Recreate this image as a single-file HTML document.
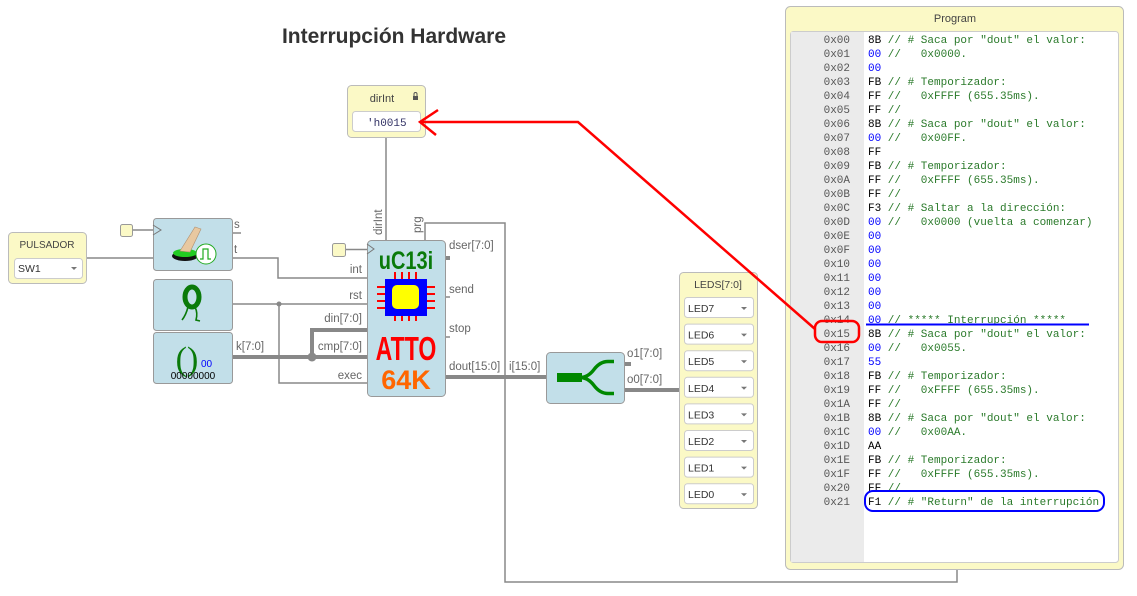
<!DOCTYPE html>
<html><head><meta charset="utf-8"><style>
html,body{margin:0;padding:0;background:#fff;width:1137px;height:596px;overflow:hidden}
svg{display:block}
text{font-family:"Liberation Sans",sans-serif}
.m, .m text, text.m{font-family:"Liberation Mono",monospace;font-size:11px;white-space:pre}
.lbl, .lbl text{font-size:11.5px;fill:#666}
.big{font-family:"Liberation Sans",Arial,sans-serif;font-weight:bold}
</style></head><body>
<svg width="1137" height="596" viewBox="0 0 1137 596" xmlns="http://www.w3.org/2000/svg">
<text x="394" y="43" text-anchor="middle" font-size="21" font-weight="bold" fill="#333">Interrupción Hardware</text>

<g stroke="#888" stroke-width="1.5" fill="none">
<path d="M386 138 V240"/>
<path d="M86 258 H153"/>
<path d="M132 230 H153"/>
<path d="M232 258 H278 V278 H367"/>
<path d="M232 304 H367"/>
<path d="M279 304 V383 H367"/>
<path d="M345 249.5 H367"/>
<path d="M425 240 V223 H505 V582 H957 V569"/>
<path d="M232 233 H241"/>
<path d="M445 297 H450"/><path d="M445 337 H450"/>
</g>
<g stroke="#888" stroke-width="4" fill="none">
<path d="M232 357 H367"/>
<path d="M312 357 V330 H367"/>
<path d="M445 377 H546"/>
<path d="M624 390 H679"/>
<path d="M445 258 H450"/>
<path d="M624 364 H631"/>
</g>
<circle cx="279" cy="304" r="2.5" fill="#888"/>
<circle cx="312" cy="357" r="4.5" fill="#888"/>

<rect x="8.5" y="232.5" width="78" height="51" rx="4" fill="#fbf9c6" stroke="#bbb"/>
<text x="47" y="248" text-anchor="middle" font-size="10" fill="#444">PULSADOR</text>
<rect x="14.5" y="258.5" width="68" height="20" rx="3" fill="#fff" stroke="#ccc"/>
<text x="18" y="272" font-size="10.5" fill="#333">SW1</text>
<path d="M71 267 h6 l-3 3z" fill="#777"/>

<rect x="120.5" y="224.5" width="12" height="12" rx="2" fill="#fbf9c6" stroke="#999"/>
<rect x="332.5" y="243.5" width="13" height="13" rx="2" fill="#fbf9c6" stroke="#999"/>

<g fill="#c2dfe9" stroke="#999">
<rect x="153.5" y="218.5" width="79" height="52" rx="3"/>
<rect x="153.5" y="279.5" width="79" height="51" rx="3"/>
<rect x="153.5" y="332.5" width="79" height="51" rx="3"/>
</g>
<path d="M153 225 l8 5 l-8 5" stroke="#777" fill="none"/>
<ellipse cx="185" cy="256" rx="13" ry="5" fill="#111"/>
<ellipse cx="185" cy="253" rx="12" ry="4" fill="#2c2"/>
<path d="M180 251 L195 227 L201 229 L190 252 Z" fill="#e8c8a0" stroke="#b09070" stroke-width=".6"/>
<circle cx="206" cy="254" r="10" fill="#fff" stroke="#2a2" stroke-width="1"/>
<path d="M200 259 h3 v-10 h5 v10 h3" stroke="#2a2" fill="none" stroke-width="1.2"/>
<text x="234" y="228" class="lbl">s</text>
<text x="234" y="253" class="lbl">t</text>
<ellipse cx="192" cy="297" rx="7" ry="10" fill="none" stroke="#0a7a0a" stroke-width="5"/>
<path d="M188 307 q-2 8 -6 13 M195 307 q3 6 1 13 l4 1" stroke="#0a7a0a" stroke-width="1.6" fill="none"/>
<text x="187" y="370" text-anchor="middle" font-size="34" fill="#0a7a0a" style="font-family:'Liberation Serif',serif">()</text>
<text x="201" y="367" font-size="10" fill="#00f">00</text>
<text x="193" y="379" text-anchor="middle" font-size="10" fill="#000">00000000</text>
<text x="236" y="350" class="lbl">k[7:0]</text>

<rect x="367.5" y="240.5" width="78" height="156" rx="4" fill="#c2dfe9" stroke="#999"/>
<path d="M367 244 l7 5 l-7 5" stroke="#777" fill="none"/>
<text class="big" transform="translate(406,269) scale(0.8,1)" text-anchor="middle" font-size="25" fill="#0a7a0a">uC13i</text>
<g stroke="#f00" stroke-width="2">
<path d="M395 272 v7 M402 272 v7 M409 272 v7 M416 272 v7"/>
<path d="M395 314 v7 M402 314 v7 M409 314 v7 M416 314 v7"/>
<path d="M377 287 h8 M377 294 h8 M377 301 h8 M377 308 h8"/>
<path d="M427 287 h8 M427 294 h8 M427 301 h8 M427 308 h8"/>
</g>
<rect x="385" y="279" width="42" height="37" fill="#00f"/>
<rect x="392" y="285" width="27" height="24" rx="5" fill="#ff0"/>
<text class="big" transform="translate(406,360) scale(0.7,1)" text-anchor="middle" font-size="33" fill="#f00">ATTO</text>
<text class="big" transform="translate(406,389)" text-anchor="middle" font-size="27" fill="#f60">64K</text>
<g class="lbl" text-anchor="end">
<text x="362" y="273">int</text>
<text x="362" y="299">rst</text>
<text x="362" y="322">din[7:0]</text>
<text x="362" y="350">cmp[7:0]</text>
<text x="362" y="379">exec</text>
</g>
<g class="lbl">
<text x="449" y="249">dser[7:0]</text>
<text x="449" y="293">send</text>
<text x="449" y="332">stop</text>
<text x="449" y="370">dout[15:0]</text>
<text x="509" y="370">i[15:0]</text>
<text x="627" y="357">o1[7:0]</text>
<text x="627" y="383">o0[7:0]</text>
</g>
<text transform="translate(382,235) rotate(-90)" class="lbl">dirInt</text>
<text transform="translate(421,233) rotate(-90)" class="lbl">prg</text>

<rect x="347.5" y="85.5" width="78" height="52" rx="4" fill="#fbf9c6" stroke="#bbb"/>
<text x="382" y="102" text-anchor="middle" font-size="11" fill="#444">dirInt</text>
<rect x="413" y="96" width="5" height="4" fill="#555"/><path d="M414 96 v-2 a1.5 1.5 0 0 1 3 0 v2" stroke="#555" fill="none" stroke-width="1"/>
<rect x="352.5" y="111.5" width="68" height="20" rx="3" fill="#fff" stroke="#ccc"/>
<text x="367" y="126" class="m" fill="#336">'h0015</text>

<rect x="546.5" y="352.5" width="78" height="51" rx="4" fill="#c2dfe9" stroke="#999"/>
<rect x="557" y="373" width="25" height="9" fill="#080"/>
<path d="M580 377.5 q8 0 14 -8 q6 -8 14 -8 h6 M580 377.5 q8 0 14 8 q6 8 14 8 h6" stroke="#080" stroke-width="3.5" fill="none"/>

<rect x="679.5" y="272.5" width="78" height="236" rx="4" fill="#fbf9c6" stroke="#bbb"/>
<text x="718" y="288" text-anchor="middle" font-size="10.5" fill="#444">LEDS[7:0]</text>
<g font-size="10.5" fill="#333">
<g transform="translate(0,0)"><rect x="684.5" y="297.5" width="69" height="20" rx="3" fill="#fff" stroke="#ccc"/><text x="688" y="312">LED7</text><path d="M741 307 h6 l-3 3z" fill="#777"/></g>
<g transform="translate(0,26.6)"><rect x="684.5" y="297.5" width="69" height="20" rx="3" fill="#fff" stroke="#ccc"/><text x="688" y="312">LED6</text><path d="M741 307 h6 l-3 3z" fill="#777"/></g>
<g transform="translate(0,53.2)"><rect x="684.5" y="297.5" width="69" height="20" rx="3" fill="#fff" stroke="#ccc"/><text x="688" y="312">LED5</text><path d="M741 307 h6 l-3 3z" fill="#777"/></g>
<g transform="translate(0,79.8)"><rect x="684.5" y="297.5" width="69" height="20" rx="3" fill="#fff" stroke="#ccc"/><text x="688" y="312">LED4</text><path d="M741 307 h6 l-3 3z" fill="#777"/></g>
<g transform="translate(0,106.4)"><rect x="684.5" y="297.5" width="69" height="20" rx="3" fill="#fff" stroke="#ccc"/><text x="688" y="312">LED3</text><path d="M741 307 h6 l-3 3z" fill="#777"/></g>
<g transform="translate(0,133)"><rect x="684.5" y="297.5" width="69" height="20" rx="3" fill="#fff" stroke="#ccc"/><text x="688" y="312">LED2</text><path d="M741 307 h6 l-3 3z" fill="#777"/></g>
<g transform="translate(0,159.6)"><rect x="684.5" y="297.5" width="69" height="20" rx="3" fill="#fff" stroke="#ccc"/><text x="688" y="312">LED1</text><path d="M741 307 h6 l-3 3z" fill="#777"/></g>
<g transform="translate(0,186.2)"><rect x="684.5" y="297.5" width="69" height="20" rx="3" fill="#fff" stroke="#ccc"/><text x="688" y="312">LED0</text><path d="M741 307 h6 l-3 3z" fill="#777"/></g>
</g>

<rect x="785.5" y="6.5" width="338" height="563" rx="5" fill="#fbf9c6" stroke="#bbb"/>
<text x="955" y="22" text-anchor="middle" font-size="11" fill="#444">Program</text>
<rect x="790.5" y="31.5" width="328" height="531" rx="3" fill="#fff" stroke="#ccc"/>
<rect x="791" y="32" width="73" height="530" fill="#ebebeb"/>
<g class="m">
<g fill="#555" text-anchor="end">
<text x="850" y="43">0x00</text><text x="850" y="57">0x01</text><text x="850" y="71">0x02</text><text x="850" y="85">0x03</text><text x="850" y="99">0x04</text><text x="850" y="113">0x05</text><text x="850" y="127">0x06</text><text x="850" y="141">0x07</text><text x="850" y="155">0x08</text><text x="850" y="169">0x09</text><text x="850" y="183">0x0A</text><text x="850" y="197">0x0B</text><text x="850" y="211">0x0C</text><text x="850" y="225">0x0D</text><text x="850" y="239">0x0E</text><text x="850" y="253">0x0F</text><text x="850" y="267">0x10</text><text x="850" y="281">0x11</text><text x="850" y="295">0x12</text><text x="850" y="309">0x13</text><text x="850" y="323">0x14</text><text x="850" y="337">0x15</text><text x="850" y="351">0x16</text><text x="850" y="365">0x17</text><text x="850" y="379">0x18</text><text x="850" y="393">0x19</text><text x="850" y="407">0x1A</text><text x="850" y="421">0x1B</text><text x="850" y="435">0x1C</text><text x="850" y="449">0x1D</text><text x="850" y="463">0x1E</text><text x="850" y="477">0x1F</text><text x="850" y="491">0x20</text><text x="850" y="505">0x21</text>
</g>
<g>
<text x="868" y="43"><tspan fill="#000">8B</tspan><tspan fill="#2a7a2a"> // # Saca por "dout" el valor:</tspan></text>
<text x="868" y="57"><tspan fill="#00f">00</tspan><tspan fill="#2a7a2a"> //   0x0000.</tspan></text>
<text x="868" y="71" fill="#00f">00</text>
<text x="868" y="85"><tspan fill="#000">FB</tspan><tspan fill="#2a7a2a"> // # Temporizador:</tspan></text>
<text x="868" y="99"><tspan fill="#000">FF</tspan><tspan fill="#2a7a2a"> //   0xFFFF (655.35ms).</tspan></text>
<text x="868" y="113"><tspan fill="#000">FF</tspan><tspan fill="#2a7a2a"> //</tspan></text>
<text x="868" y="127"><tspan fill="#000">8B</tspan><tspan fill="#2a7a2a"> // # Saca por "dout" el valor:</tspan></text>
<text x="868" y="141"><tspan fill="#00f">00</tspan><tspan fill="#2a7a2a"> //   0x00FF.</tspan></text>
<text x="868" y="155" fill="#000">FF</text>
<text x="868" y="169"><tspan fill="#000">FB</tspan><tspan fill="#2a7a2a"> // # Temporizador:</tspan></text>
<text x="868" y="183"><tspan fill="#000">FF</tspan><tspan fill="#2a7a2a"> //   0xFFFF (655.35ms).</tspan></text>
<text x="868" y="197"><tspan fill="#000">FF</tspan><tspan fill="#2a7a2a"> //</tspan></text>
<text x="868" y="211"><tspan fill="#000">F3</tspan><tspan fill="#2a7a2a"> // # Saltar a la dirección:</tspan></text>
<text x="868" y="225"><tspan fill="#00f">00</tspan><tspan fill="#2a7a2a"> //   0x0000 (vuelta a comenzar)</tspan></text>
<text x="868" y="239" fill="#00f">00</text>
<text x="868" y="253" fill="#00f">00</text>
<text x="868" y="267" fill="#00f">00</text>
<text x="868" y="281" fill="#00f">00</text>
<text x="868" y="295" fill="#00f">00</text>
<text x="868" y="309" fill="#00f">00</text>
<text x="868" y="323"><tspan fill="#00f">00</tspan><tspan fill="#2a7a2a"> // ***** Interrupción *****</tspan></text>
<text x="868" y="337"><tspan fill="#000">8B</tspan><tspan fill="#2a7a2a"> // # Saca por "dout" el valor:</tspan></text>
<text x="868" y="351"><tspan fill="#00f">00</tspan><tspan fill="#2a7a2a"> //   0x0055.</tspan></text>
<text x="868" y="365" fill="#00f">55</text>
<text x="868" y="379"><tspan fill="#000">FB</tspan><tspan fill="#2a7a2a"> // # Temporizador:</tspan></text>
<text x="868" y="393"><tspan fill="#000">FF</tspan><tspan fill="#2a7a2a"> //   0xFFFF (655.35ms).</tspan></text>
<text x="868" y="407"><tspan fill="#000">FF</tspan><tspan fill="#2a7a2a"> //</tspan></text>
<text x="868" y="421"><tspan fill="#000">8B</tspan><tspan fill="#2a7a2a"> // # Saca por "dout" el valor:</tspan></text>
<text x="868" y="435"><tspan fill="#00f">00</tspan><tspan fill="#2a7a2a"> //   0x00AA.</tspan></text>
<text x="868" y="449" fill="#000">AA</text>
<text x="868" y="463"><tspan fill="#000">FB</tspan><tspan fill="#2a7a2a"> // # Temporizador:</tspan></text>
<text x="868" y="477"><tspan fill="#000">FF</tspan><tspan fill="#2a7a2a"> //   0xFFFF (655.35ms).</tspan></text>
<text x="868" y="491"><tspan fill="#000">FF</tspan><tspan fill="#2a7a2a"> //</tspan></text>
<text x="868" y="505"><tspan fill="#000">F1</tspan><tspan fill="#2a7a2a"> // # "Return" de la interrupción</tspan></text>
</g>
</g>

<path d="M866 324.5 H1089" stroke="#00f" stroke-width="2"/>
<rect x="865" y="491" width="239" height="20" rx="8" fill="none" stroke="#00f" stroke-width="2"/>
<rect x="815" y="321" width="44" height="21" rx="7" fill="none" stroke="#f00" stroke-width="2.5"/>
<path d="M815 329 L578 122 H420" stroke="#f00" stroke-width="2.5" fill="none"/>
<path d="M438 110 L420 122 L436 135" stroke="#f00" stroke-width="2.5" fill="none"/>
</svg>
</body></html>
